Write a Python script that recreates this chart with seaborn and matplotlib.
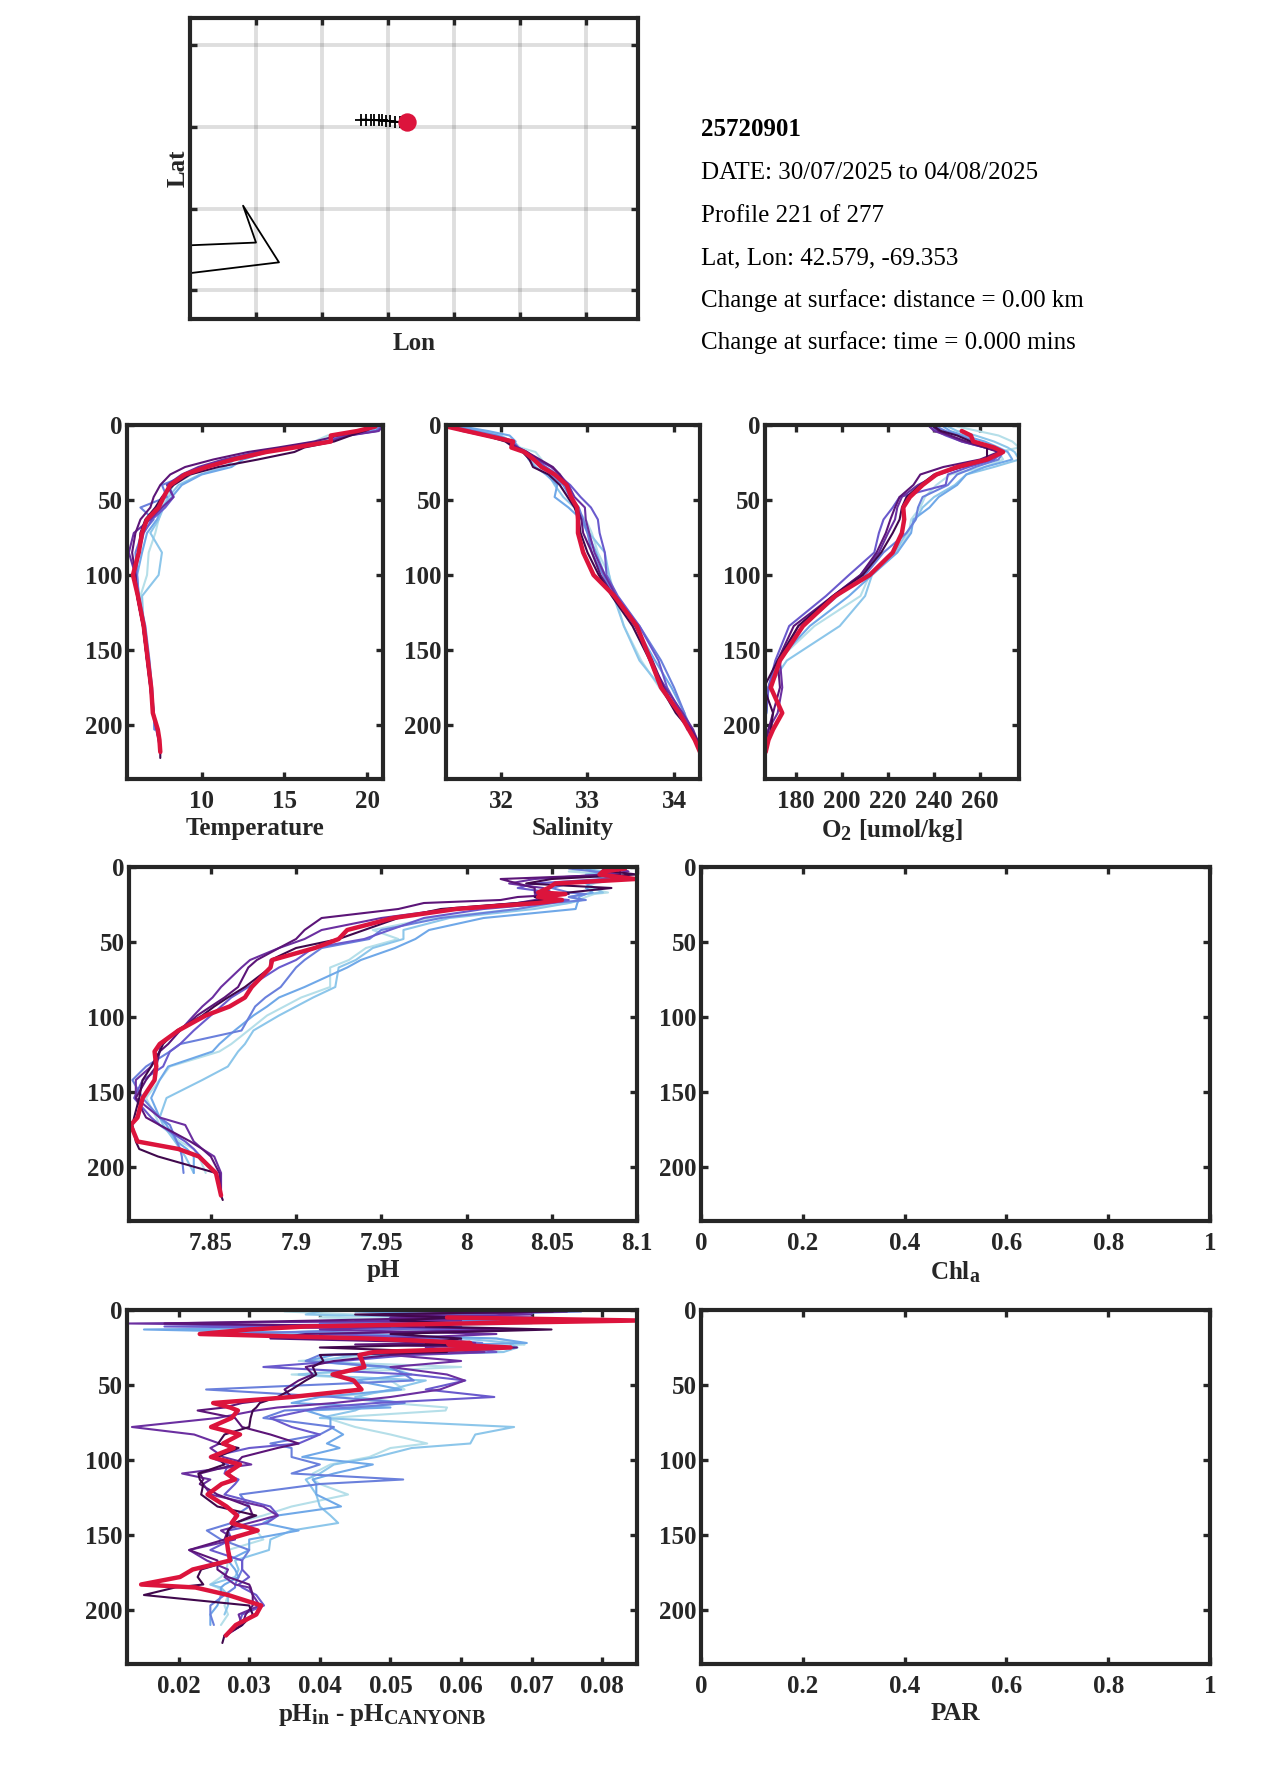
import numpy as np
import matplotlib
matplotlib.use('Agg')
import matplotlib.pyplot as plt
import matplotlib._mathtext as mathtext_core
import seaborn as sns

nan = np.nan

# depth levels shared by the profiles of a panel (m)
depth_ts = [1, 4, 7, 11, 15, 18, 23, 28, 33, 40, 48, 55, 63, 72, 85, 100, 114, 134, 157, 175, 192, 203, 210, 218, 222]
depth_ph = [1, 3, 5, 8, 11, 14, 17, 18, 20, 22, 24, 28, 34, 42, 48, 54, 62, 67, 80, 87, 93, 99, 109, 118, 123, 133, 142, 154, 167, 172, 183, 188, 193, 204, 219, 222]
depth_res = [1, 3, 5, 7, 9, 11, 13, 16, 19, 22, 23, 25, 28, 30, 34, 38, 43, 47, 53, 58, 62, 65, 67, 72, 78, 83, 89, 92, 98, 103, 109, 113, 116, 123, 131, 137, 142, 147, 153, 160, 167, 173, 178, 183, 185, 190, 197, 203, 210, 217, 222]

# temperature, oldest profile first
temp_p1 = [20.7, 20.4, 17.6, 16.8, 15.0, 13.3, 11.6, 10.4, 9.4, 8.3, 7.9, 7.6, 7.4, 7.2, 6.8, 6.7, 6.3, 6.5, 6.7, 6.9, 7.1, 7.2]
temp_p2 = [20.6, 20.2, 18.0, 17.2, 15.3, 13.0, 12.0, 11.4, 9.9, 8.6, 8.0, 7.7, 7.4, 6.9, 7.6, 7.4, 6.4, 6.5, 6.7, 6.9, 7.1, 7.2]
temp_p3 = [20.6, 20.3, 18.6, 17.6, 15.5, 14.0, 12.5, 11.8, 10.0, 8.8, 8.2, 7.6, 7.3, 6.7, 6.4, 6.1, 6.2, 6.5, 6.8, 7.0, 7.1, 7.15]
temp_p4 = [20.8, 20.5, 18.7, 17.6, 15.2, 13.5, 11.8, 10.4, 9.2, 7.6, 7.9, 6.3, 7.1, 6.4, 6.0, 6.1, 6.2, 6.6, 6.85, 7.0, 7.1, 7.15]
temp_p5 = [20.9, 20.6, 18.8, 17.5, 15.4, 13.6, 11.5, 10.0, 9.1, 8.0, 8.3, 7.8, 7.0, 6.5, 6.2, 6.0, 6.2, 6.5, 6.75, 6.95, 7.1, 7.25, 7.4]
temp_p6 = [20.9, 20.7, 18.9, 17.6, 15.0, 13.4, 11.3, 9.8, 8.8, 7.9, 8.3, 7.6, 6.9, 5.9, 5.6, 6.0, 6.1, 6.45, 6.7, 6.95, 7.1, 7.3, 7.4, 7.5]
temp_p7 = [20.5, 19.9, 18.3, 16.8, 14.6, 12.8, 10.7, 9.0, 8.1, 7.5, 7.1, 6.9, 6.3, 6.0, 5.8, 6.0, 6.1, 6.45, 6.7, 6.9, 7.05, 7.3, 7.4, 7.5]
temp_p8 = [20.4, 19.8, 19.0, 18.0, 16.2, 15.6, 13.4, 11.0, 9.3, 8.3, 7.6, 7.2, 6.6, 6.3, 6.2, 5.9, 6.1, 6.45, 6.7, 6.9, 7.05, 7.35, 7.45, 7.5, 7.5]
temp_now = [20.5, 19.4, 17.8, 17.8, 15.6, 13.9, 11.9, 10.3, 9.0, 8.1, 7.7, 7.4, 6.7, 6.4, 6.2, 5.85, 6.15, 6.5, 6.75, 6.95, 7.05, 7.35, 7.45, 7.5]

# salinity
sal_p1 = [31.55, 31.75, 31.95, 32.15, 32.22, 32.4, 32.47, 32.5, 32.6, 32.68, 32.78, 32.85, 32.98, 33.05, 33.12, 33.25, 33.32, 33.42, 33.62, 33.83, 34.05, 34.22, 34.25]
sal_p2 = [31.5, 31.8, 32.0, 32.12, 32.18, 32.25, 32.35, 32.45, 32.55, 32.62, 32.72, 32.85, 32.95, 33.02, 33.2, 33.25, 33.3, 33.42, 33.6, 33.85, 34.05, 34.2]
sal_p3 = [31.55, 31.85, 32.1, 32.17, 32.12, 32.28, 32.32, 32.4, 32.52, 32.65, 32.62, 32.78, 32.93, 33.0, 33.1, 33.2, 33.32, 33.55, 33.78, 33.97, 34.12, 34.2]
sal_p4 = [31.45, 31.7, 31.95, 32.15, 32.2, 32.3, 32.4, 32.48, 32.58, 32.72, 32.8, 32.9, 32.95, 33.0, 33.05, 33.18, 33.3, 33.6, 33.85, 34.0, 34.12, 34.15]
sal_p5 = [31.42, 31.6, 31.85, 32.1, 32.17, 32.28, 32.4, 32.52, 32.65, 32.8, 32.92, 33.04, 33.12, 33.14, 33.2, 33.22, 33.35, 33.6, 33.82, 33.92, 34.08, 34.2, 34.25]
sal_p6 = [31.4, 31.55, 31.8, 32.1, 32.2, 32.3, 32.42, 32.58, 32.68, 32.78, 32.85, 32.97, 32.98, 33.02, 33.08, 33.2, 33.33, 33.58, 33.72, 33.9, 34.1, 34.22, 34.27, 34.3]
sal_p7 = [31.38, 31.6, 31.85, 32.08, 32.18, 32.3, 32.45, 32.6, 32.68, 32.75, 32.82, 32.88, 32.93, 32.95, 33.05, 33.15, 33.3, 33.55, 33.75, 33.88, 34.05, 34.2, 34.27, 34.3]
sal_p8 = [31.38, 31.6, 31.82, 32.05, 32.15, 32.25, 32.33, 32.37, 32.55, 32.68, 32.77, 32.85, 32.9, 32.92, 33.0, 33.13, 33.28, 33.52, 33.72, 33.85, 34.02, 34.18, 34.25, 34.3, 34.31]
sal_now = [31.37, 31.6, 31.83, 32.14, 32.12, 32.27, 32.38, 32.47, 32.62, 32.76, 32.81, 32.88, 32.89, 32.89, 32.95, 33.07, 33.31, 33.57, 33.73, 33.85, 34.06, 34.17, 34.24, 34.3]

# oxygen
o2_p1 = [250, 259, 268, 274, 277, 268, 270, 262, 247, 241, 236, 234, 230, 229, 224, 212, 208, 188, 172, 168, 167, 166]
o2_p2 = [246, 250, 258, 266, 272, 275, 277, 266, 254, 249, 240, 235, 232, 228, 223, 213, 210, 199, 176, 168, 167, 166, 165.5]
o2_p3 = [244, 247, 253, 262, 268, 272, 274, 262, 254, 250, 242, 238, 231, 230, 224, 213, 203, 186, 172, 168, 167, 166]
o2_p4 = [241, 245, 251, 258, 265, 270, 268, 258, 250, 246, 235, 233, 232, 228, 218, 210, 198, 183, 172, 168, 167, 166]
o2_p5 = [238, 241, 245, 252, 262, 270, 266, 255, 246, 245, 225, 222, 218, 216, 214, 203, 193, 177, 171, 168, 167, 166, 165.5]
o2_p6 = [238, 240, 246, 252, 262, 269, 264, 252, 242, 233, 226, 224, 223, 220, 216, 208, 196, 181, 173, 174, 172, 168, 167, 166.5]
o2_p7 = [240, 242, 247, 254, 262, 268, 260, 244, 234, 231, 225, 223, 221, 219, 215, 208, 196, 179, 172, 173, 170, 168, 167, 166.5]
o2_p8 = [240, 243, 250, 256, 263, 263, 263, 252, 240, 234, 228, 226, 225, 222, 217, 209, 196, 181, 172, 166, 170, 169, 168, 166.5, 166]
o2_now = [nan, 252, 256, 257, 266, 270, 263, 250, 241, 235, 229.5, 226.6, 227, 226, 222, 212, 197, 183, 173, 169, 174, 170, 168, 166.8]

# pH
ph_p1 = [8.074, 8.06, 8.085, 8.088, 8.075, 8.07, 8.083, 8.075, 8.07, 8.066, 8.06, 8.03, 7.98, 7.945, 7.96, 7.941, 7.931, 7.92, 7.92, 7.903, 7.893, 7.883, 7.872, 7.862, 7.855, 7.826, 7.82, 7.812, 7.818, 7.82, 7.832, 7.84, 7.843, 7.847]
ph_p2 = [8.07, 8.08, 8.07, 8.082, 8.07, 8.075, 8.08, 8.07, 8.06, 8.068, 8.06, 8.04, 7.99, 7.963, 7.963, 7.945, 7.935, 7.925, 7.923, 7.91, 7.9, 7.89, 7.875, 7.87, 7.866, 7.86, 7.845, 7.824, 7.82, 7.822, 7.829, 7.832, 7.835, 7.84]
ph_p3 = [8.07, 8.075, 8.078, 8.085, 8.072, 8.07, 8.074, 8.07, 8.066, 8.066, 8.065, 8.064, 8.01, 7.978, 7.97, 7.958, 7.938, 7.93, 7.905, 7.89, 7.883, 7.875, 7.864, 7.855, 7.851, 7.825, 7.82, 7.815, 7.82, 7.824, 7.83, 7.836, 7.84, 7.84]
ph_p4 = [8.06, 8.075, 8.09, 8.085, 8.06, 8.05, 8.06, 8.07, 8.06, 8.07, 8.05, 8.03, 7.985, 7.95, 7.943, 7.915, 7.905, 7.9, 7.891, 7.882, 7.876, 7.873, 7.868, 7.832, 7.826, 7.812, 7.804, 7.81, 7.82, 7.826, 7.83, 7.832, 7.833, 7.834]
ph_p5 = [8.08, 8.08, 8.09, 8.08, 8.04, 8.03, 8.05, 8.05, 8.04, 8.06, 8.05, 8.01, 7.975, 7.955, 7.94, 7.91, 7.9, 7.89, 7.872, 7.862, 7.856, 7.85, 7.84, 7.832, 7.826, 7.822, 7.81, 7.805, 7.815, 7.82, 7.835, 7.84, 7.844, 7.853, 7.856]
ph_p6 = [8.09, 8.095, 8.08, 8.04, 8.025, 8.045, 8.05, 8.04, 8.05, 8.04, 8.03, 7.99, 7.95, 7.915, 7.905, 7.89, 7.873, 7.868, 7.856, 7.851, 7.845, 7.84, 7.832, 7.82, 7.82, 7.815, 7.806, 7.806, 7.82, 7.835, 7.84, 7.845, 7.852, 7.856, 7.856]
ph_p7 = [8.09, 8.09, 8.09, 8.02, 8.03, 8.04, 8.04, 8.06, 8.03, 8.02, 7.975, 7.96, 7.915, 7.905, 7.9, 7.89, 7.877, 7.872, 7.866, 7.858, 7.85, 7.842, 7.832, 7.825, 7.82, 7.818, 7.812, 7.806, 7.812, 7.82, 7.838, 7.845, 7.85, 7.855, 7.856]
ph_p8 = [8.08, 8.085, 8.1, 8.05, 8.035, 8.085, 8.06, 8.05, 8.04, 8.045, 8.03, 7.985, 7.96, 7.94, 7.925, 7.9, 7.885, 7.885, 7.87, 7.86, 7.852, 7.845, 7.83, 7.822, 7.82, 7.815, 7.81, 7.808, 7.805, 7.804, 7.806, 7.808, 7.819, 7.853, 7.856, 7.857]
ph_now = [8.093, 8.08, 8.078, 8.099, 8.052, 8.048, 8.042, 8.058, 8.042, 8.056, 8.042, 7.994, 7.957, 7.93, 7.925, 7.911, 7.886, 7.885, 7.874, 7.87, 7.861, 7.847, 7.831, 7.82, 7.817, 7.818, 7.817, 7.81, 7.807, 7.803, 7.807, 7.831, 7.843, 7.853, 7.856]

# pH minus CANYON-B estimate
res_p1 = [.035, .045, .04, .06, .07, .05, .06, .04, .065, .0685, .069, .06, .066, .05, .037, .06, .036, .05, .052, .042, .05, .058, .0578, .041, .045, .05, .0552, .05, .047, .0415, .039, .039, .04, .044, .036, .032, .028, .031, .032, .027, .027, .0268, .026, .0245, .0255, .027, .0265, .027, .026]
res_p2 = [.04, .038, .055, .07, .05, .06, .045, .03, .06, .0675, .067, .068, .066, .045, .04, .05, .037, .055, .05, .045, .052, .046, .045, .04, .0675, .062, .0613, .053, .048, .042, .04, .038, .0385, .0395, .04, .0415, .0426, .036, .033, .0328, .028, .0285, .028, .0245, .026, .027, .027, .0265]
res_p3 = [.045, .06, .07, .05, .04, .055, .0151, .045, .065, .0693, .06, .0675, .06, .042, .038, .049, .053, .045, .0515, .04, .036, .05, .038, .0415, .0415, .0433, .041, .0428, .0375, .0475, .042, .039, .0395, .0395, .043, .034, .032, .037, .03, .03, .027, .028, .0285, .0265, .026, .026, .0255, .0245, .0245]
res_p4 = [.077, .06, .05, .065, .04, .06, .05, .025, .055, .063, .05, .067, .055, .04, .038, .05, .052, .0533, .0239, .042, .052, .045, .035, .032, .042, .04, .033, .036, .036, .04, .036, .0518, .04, .0287, .03, .028, .0275, .024, .026, .03, .029, .029, .0285, .028, .028, .0265, .0245, .0245, .025]
res_p5 = [.065, .05, .07, .045, .055, .018, .065, .04, .06, .06, .05, .062, .065, .053, .043, .032, .053, .0606, .055, .0647, .048, .04, .038, .033, .036, .04, .037, .03, .0244, .027, .0265, .0285, .028, .0265, .033, .0341, .0325, .027, .0275, .0245, .029, .029, .03, .0285, .029, .031, .0321, .029, .0285]
res_p6 = [.06, .07, .05, .06, .013, .05, .04, .065, .05, .062, .055, .055, .0633, .05, .06, .05, .058, .0605, .057, .05, .042, .034, .031, .0255, .0134, .0222, .0258, .0245, .0263, .0303, .0205, .0245, .0235, .0245, .032, .034, .03, .026, .028, .0215, .024, .027, .0265, .028, .03, .0305, .0315, .0285, .029, .0267]
res_p7 = [.075, .05, .06, .04, .018, .05, .07, .038, .033, .06, .045, .0679, .055, .05, .042, .038, .039, .037, .035, .036, .029, .0265, .0227, .028, .029, .033, .037, .034, .029, .028, .023, .0235, .023, .0255, .03, .0305, .028, .027, .0265, .0215, .0255, .0255, .027, .03, .0302, .0305, .0305, .0295, .029, .0265]
res_p8 = [.073, .045, .06, .05, .06, .055, .0728, .05, .06, .055, .058, .04, .058, .04, .0405, .039, .0395, .038, .036, .034, .0315, .031, .0305, .0302, .03, .0265, .0256, .0285, .0255, .0265, .0228, .023, .0235, .0232, .0255, .031, .028, .027, .0268, .027, .0275, .0232, .0227, .0235, .0195, .0151, .03, .0305, .029, .0265, .0262]
res_now = [nan, nan, .058, .085, .06, .038, .03, .023, .047, .0613, .0582, .067, .0477, .0456, .046, .0463, .0418, .0448, .0459, .036, .0249, .0273, .0284, .0275, .0246, .0287, .0263, .0278, .0246, .0287, .0268, .028, .0261, .0241, .0268, .0283, .0275, .0312, .0268, .027, .0273, .022, .0202, .0147, .0224, .027, .0317, .031, .0281, .0267]

# map: float track and coastline
track_lon = [-69.707, -69.67, -69.632, -69.607, -69.57, -69.545, -69.512, -69.482, -69.445, -69.412]
track_lat = [42.595, 42.595, 42.593, 42.592, 42.59, 42.59, 42.588, 42.586, 42.583, 42.58]
float_lon = [-69.353]
float_lat = [42.579]
coast_lon = [-71.1, -70.5, -70.598, -70.326, -71.1]
coast_lat = [41.822, 41.842, 42.068, 41.721, 41.645]
lon_grid = [-70.5, -70, -69.5, -69, -68.5, -68]
lat_grid = [41.55, 42.05, 42.55, 43.05]

depth_ticks = [0, 50, 100, 150, 200]
info_lines = ['DATE: 30/07/2025 to 04/08/2025', 'Profile 221 of 277', 'Lat, Lon: 42.579, -69.353',
              'Change at surface: distance = 0.00 km', 'Change at surface: time = 0.000 mins']
info_base = [179, 222, 264, 307, 349]

colors = ['#b5dfe9', '#8cc6ea', '#6fa8e8', '#6a80dc', '#6a5acd', '#6b2fa0', '#5c1578', '#40084c']
crimson = '#dc143c'
dark = '#262626'

W, H = 1275, 1771

sns.set_theme(style='white')
plt.rcParams['font.family'] = ['Liberation Serif', 'DejaVu Serif']
plt.rcParams['font.weight'] = 'bold'
plt.rcParams['mathtext.fontset'] = 'custom'
plt.rcParams['mathtext.bf'] = 'Liberation Serif:bold'
plt.rcParams['mathtext.rm'] = 'Liberation Serif:bold'
plt.rcParams['mathtext.it'] = 'Liberation Serif:bold'
mathtext_core.SHRINK_FACTOR = 0.8  # subscripts are bigger in the original

fig = plt.figure(figsize=(W / 100, H / 100), dpi=100, facecolor='white')


def make_axes(left, right, top, bottom):
    # axes from pixel edges
    ax = fig.add_axes([left / W, 1 - bottom / H, (right - left) / W, (bottom - top) / H])
    for s in ax.spines.values():
        s.set_linewidth(3)
        s.set_color(dark)
    ax.tick_params(direction='in', length=5, width=2.4, color=dark, labelcolor=dark,
                   top=True, right=True, bottom=True, left=True, labelsize=18)
    ax.tick_params(axis='x', pad=8)
    ax.tick_params(axis='y', pad=3)
    return ax


def depth_panel(box, depth, profiles, now, xlim, xticks, xticklabels, xlabel):
    ax = make_axes(*box)
    for vals, col in zip(profiles, colors):
        sns.lineplot(x=vals, y=depth[:len(vals)], sort=False, estimator=None,
                     color=col, linewidth=1.5, ax=ax)
    if now is not None:
        sns.lineplot(x=now, y=depth[:len(now)], sort=False, estimator=None,
                     color=crimson, linewidth=3.2, ax=ax)
    ax.set_xlim(*xlim)
    ax.set_ylim(236, 0)
    ax.set_xticks(xticks)
    ax.set_xticklabels(xticklabels)
    ax.set_yticks(depth_ticks)
    ax.set_yticklabels([str(d) for d in depth_ticks])
    ax.set_xlabel(xlabel, fontsize=18, fontweight='bold', color=dark, labelpad=3)
    ax.set_ylabel('')
    return ax


# map panel
ax_map = make_axes(190, 638, 18, 319)
ax_map.set_xlim(-71, -67.606)
ax_map.set_ylim(41.374, 43.217)
ax_map.set_xticks(lon_grid)
ax_map.set_yticks(lat_grid)
ax_map.set_xticklabels([])
ax_map.set_yticklabels([])
ax_map.grid(True, color='black', alpha=0.13, linewidth=2.8)
ax_map.set_axisbelow(True)
sns.lineplot(x=coast_lon, y=coast_lat, sort=False, estimator=None, color='black', linewidth=1.3, ax=ax_map)
sns.lineplot(x=track_lon, y=track_lat, sort=False, estimator=None, color='black', linewidth=1.3,
             marker='+', markersize=8, markeredgewidth=1.3, markeredgecolor='black', ax=ax_map)
sns.scatterplot(x=float_lon, y=float_lat, color=crimson, s=175, linewidth=0, zorder=5, ax=ax_map)
ax_map.set_xlabel('Lon', fontsize=18, fontweight='bold', color=dark, labelpad=1)
ax_map.set_ylabel('Lat', fontsize=18, fontweight='bold', color=dark, labelpad=-3)

# info text
fig.text(701 / W, 1 - 136 / H, '25720901', fontsize=18, fontweight='bold', color='black', va='baseline')
for line, base in zip(info_lines, info_base):
    fig.text(701 / W, 1 - base / H, line, fontsize=18, fontweight='normal', color='black', va='baseline')

# profile panels
depth_panel((127, 383, 425, 779), depth_ts,
            [temp_p1, temp_p2, temp_p3, temp_p4, temp_p5, temp_p6, temp_p7, temp_p8], temp_now,
            (5.49, 20.95), [10, 15, 20], ['10', '15', '20'], 'Temperature')
depth_panel((446, 700, 425, 779), depth_ts,
            [sal_p1, sal_p2, sal_p3, sal_p4, sal_p5, sal_p6, sal_p7, sal_p8], sal_now,
            (31.365, 34.30), [32, 33, 34], ['32', '33', '34'], 'Salinity')
depth_panel((765, 1019, 425, 779), depth_ts,
            [o2_p1, o2_p2, o2_p3, o2_p4, o2_p5, o2_p6, o2_p7, o2_p8], o2_now,
            (166.5, 276.9), [180, 200, 220, 240, 260], ['180', '200', '220', '240', '260'],
            r'$\mathbf{O_2\ [umol/kg]}$')
depth_panel((129, 637, 867, 1221), depth_ph,
            [ph_p1, ph_p2, ph_p3, ph_p4, ph_p5, ph_p6, ph_p7, ph_p8], ph_now,
            (7.802, 8.1), [7.85, 7.9, 7.95, 8, 8.05, 8.1], ['7.85', '7.9', '7.95', '8', '8.05', '8.1'], 'pH')
depth_panel((127, 637, 1310, 1664), depth_res,
            [res_p1, res_p2, res_p3, res_p4, res_p5, res_p6, res_p7, res_p8], res_now,
            (0.0127, 0.0849), [.02, .03, .04, .05, .06, .07, .08],
            ['0.02', '0.03', '0.04', '0.05', '0.06', '0.07', '0.08'], r'$\mathbf{pH_{in}}$ - $\mathbf{pH_{CANYONB}}$')

# empty panels
frac_ticks = [0, .2, .4, .6, .8, 1]
frac_labels = ['0', '0.2', '0.4', '0.6', '0.8', '1']
depth_panel((701, 1210, 867, 1221), depth_ts, [], None, (0, 1), frac_ticks, frac_labels, r'$\mathbf{Chl_a}$')
depth_panel((701, 1210, 1310, 1664), depth_ts, [], None, (0, 1), frac_ticks, frac_labels, 'PAR')

fig.savefig('out.png', dpi=100, facecolor='white')
